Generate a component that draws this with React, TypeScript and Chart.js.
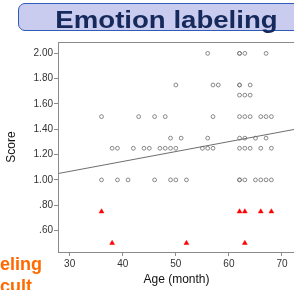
import React, { useEffect, useRef } from "react";
import { Chart, registerables } from "chart.js";

Chart.register(...registerables);

// ---- data ----
const xTickValues = [30, 40, 50, 60, 70];
const yTickValues = [0.6, 0.8, 1.0, 1.2, 1.4, 1.6, 1.8, 2.0];

const agesAt200 = [56, 62, 62, 63, 67];
const agesAt175 = [50, 57, 58, 62, 62, 64];
const agesAt167 = [62, 63, 64];
const agesAt150 = [36, 43, 46, 48, 57, 62, 63, 64, 66, 67, 68];
const agesAt133 = [49, 51, 56, 62, 63, 65, 67];
const agesAt125 = [38, 39, 42, 44, 45, 47, 48, 49, 50, 55, 56, 57, 62, 63, 64, 66, 68];
const agesAt100 = [36, 39, 41, 46, 49, 50, 52, 62, 62, 63, 65, 66, 67, 68];

const lowAgesAt075 = [36, 62, 63, 66, 68];
const lowAgesAt050 = [38, 52, 63];

const fitLineX = [27.8, 72.45];
const fitLineY = [1.05, 1.4];

const circleGroups: [number, number[]][] = [
  [2.0, agesAt200],
  [1.75, agesAt175],
  [1.67, agesAt167],
  [1.5, agesAt150],
  [1.33, agesAt133],
  [1.25, agesAt125],
  [1.0, agesAt100],
];
const triangleGroups: [number, number[]][] = [
  [0.75, lowAgesAt075],
  [0.5, lowAgesAt050],
];

const toPoints = (groups: [number, number[]][]) =>
  groups.flatMap(([score, ages]) => ages.map((a) => ({ x: a, y: score })));

const frameColor = "#8a8a8a";

const framePlugin = {
  id: "frameBox",
  afterDatasetsDraw(chart: any) {
    const { ctx, chartArea } = chart;
    ctx.save();
    ctx.strokeStyle = frameColor;
    ctx.lineWidth = 1;
    ctx.strokeRect(
      Math.round(chartArea.left) + 0.5,
      Math.round(chartArea.top) + 0.5,
      chartArea.right - chartArea.left,
      chartArea.bottom - chartArea.top
    );
    ctx.restore();
  },
};

export default function App() {
  const canvasRef = useRef<HTMLCanvasElement | null>(null);

  useEffect(() => {
    if (!canvasRef.current) return;
    Chart.defaults.font.family = "'Liberation Sans', Arial, sans-serif";
    const chart = new Chart(canvasRef.current, {
      type: "scatter",
      data: {
        datasets: [
          {
            type: "line",
            data: fitLineX.map((x, i) => ({ x, y: fitLineY[i] })),
            borderColor: "#6e6e6e",
            borderWidth: 1,
            pointRadius: 0,
            fill: false,
          } as any,
          {
            data: toPoints(circleGroups),
            pointStyle: "circle",
            pointRadius: 1.9,
            borderColor: "#7a7a7a",
            borderWidth: 0.9,
            backgroundColor: "rgba(0,0,0,0)",
          },
          {
            data: toPoints(triangleGroups),
            pointStyle: "triangle",
            pointRadius: 2.8,
            borderColor: "#ff0000",
            borderWidth: 0.5,
            backgroundColor: "#ff0000",
          },
        ],
      },
      options: {
        responsive: false,
        animation: false,
        layout: { padding: { left: 0, top: 42, right: 5, bottom: 0 } },
        plugins: {
          legend: { display: false },
          tooltip: { enabled: false },
        },
        scales: {
          x: {
            type: "linear",
            min: 27.8,
            max: 72.45,
            afterBuildTicks: (scale: any) => {
              scale.ticks = xTickValues.map((v) => ({ value: v }));
            },
            afterFit: (scale: any) => {
              scale.height = 38;
            },
            ticks: {
              color: "#333",
              font: { size: 10 },
              padding: 2,
              callback: (v: any) => String(v),
            },
            grid: {
              drawOnChartArea: false,
              drawTicks: true,
              tickLength: 4,
              color: frameColor,
            },
            border: { display: true, color: frameColor },
            title: {
              display: true,
              text: "Age (month)",
              color: "#111",
              font: { size: 12 },
              padding: { top: 0, bottom: 3 },
            },
          },
          y: {
            type: "linear",
            min: 0.43,
            max: 2.09,
            afterBuildTicks: (scale: any) => {
              scale.ticks = yTickValues.map((v) => ({ value: v }));
            },
            afterFit: (scale: any) => {
              scale.width = 58;
            },
            ticks: {
              color: "#333",
              font: { size: 10 },
              padding: 1,
              callback: (v: any) => Number(v).toFixed(2).replace(/^0/, ""),
            },
            grid: {
              drawOnChartArea: false,
              drawTicks: true,
              tickLength: 4,
              color: frameColor,
            },
            border: { display: true, color: frameColor },
            title: {
              display: true,
              text: "Score",
              color: "#111",
              font: { size: 12 },
              padding: { top: 4, bottom: 0 },
            },
          },
        },
      },
      plugins: [framePlugin],
    });
    return () => chart.destroy();
  }, []);

  return (
    <div
      style={{
        position: "absolute",
        left: 0,
        top: 0,
        width: 294,
        height: 290,
        overflow: "hidden",
        background: "#fff",
        fontFamily: "'Liberation Sans', Arial, sans-serif",
      }}
    >
      <canvas
        ref={canvasRef}
        width={300}
        height={290}
        style={{ position: "absolute", left: 0, top: 0, width: 300, height: 290 }}
      />
      <div
        style={{
          position: "absolute",
          left: 18,
          top: 3,
          width: 310,
          height: 26,
          border: "1.5px solid #2f5cb5",
          borderRadius: 7,
          background: "#c9cbef",
        }}
      />
      <div
        style={{
          position: "absolute",
          left: 0,
          top: 9,
          width: 333,
          textAlign: "center",
          fontSize: 23,
          lineHeight: "23px",
          fontWeight: "bold",
          color: "#15295b",
          transform: "scaleX(1.2)",
          transformOrigin: "166.5px 50%",
          whiteSpace: "nowrap",
        }}
      >
        Emotion labeling
      </div>
      <div
        style={{
          position: "absolute",
          left: -26,
          top: 255,
          fontSize: 18,
          lineHeight: "18px",
          fontWeight: "bold",
          color: "#ff6a00",
          whiteSpace: "nowrap",
        }}
      >
        labeling
      </div>
      <div
        style={{
          position: "absolute",
          left: -33,
          top: 277,
          fontSize: 18,
          lineHeight: "18px",
          fontWeight: "bold",
          color: "#ff6a00",
          whiteSpace: "nowrap",
        }}
      >
        difficult
      </div>
    </div>
  );
}
